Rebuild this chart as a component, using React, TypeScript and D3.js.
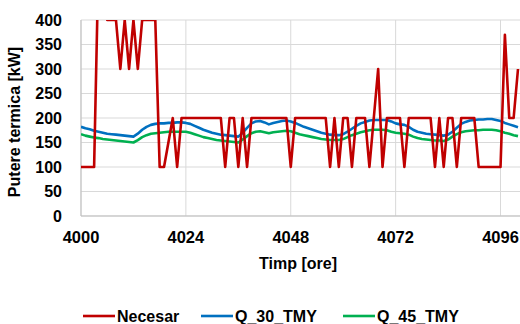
import React from "react";
import * as d3 from "d3";

const startHour = 4000;
const xTicks = [4000, 4024, 4048, 4072, 4096];
const yTicks = [0, 50, 100, 150, 200, 250, 300, 350, 400];

const necesar = [
  100, 100, 100, 100, 520, 480, 400, 400, 400, 300,
  400, 300, 400, 300, 400, 400, 400, 400, 100, 100,
  150, 200, 100, 200, 200, 200, 200, 200, 200, 200,
  200, 200, 200, 100, 200, 200, 100, 200, 100, 200,
  200, 200, 200, 200, 200, 200, 200, 200, 100, 200,
  200, 200, 200, 200, 200, 200, 200, 100, 200, 100,
  200, 200, 100, 200, 200, 200, 100, 200, 300, 100,
  200, 200, 200, 200, 100, 200, 200, 200, 200, 200,
  200, 100, 200, 100, 200, 200, 100, 200, 200, 200,
  200, 100, 100, 100, 100, 100, 100, 370, 200, 200,
  300,
];

const q30 = [
  182, 179, 177, 174, 172, 170, 168, 167, 166, 165,
  164, 163, 162, 168, 176, 182, 186, 188, 189, 189,
  190, 190, 191, 191, 190, 188, 184, 180, 176, 173,
  170, 168, 166, 165, 164, 163, 162, 170, 180, 189,
  193, 194, 191, 187, 190, 192, 194, 195, 193, 190,
  186, 182, 179, 176, 173, 170, 168, 166, 165, 165,
  167, 172, 178, 184, 189, 192, 195, 196, 196, 196,
  196, 193, 189, 187, 186, 182, 176, 172, 170, 168,
  167, 166, 165, 164, 166, 172, 180, 188, 192, 195,
  196, 197, 197, 198, 198, 196, 194, 190, 187, 184,
  181,
];

const q45 = [
  167, 164, 162, 160, 159, 157, 156, 155, 154, 153,
  152, 151, 150, 155, 161, 165, 168, 169, 170, 171,
  172, 172, 172, 172, 172, 170, 167, 164, 161, 159,
  157, 155, 154, 153, 152, 151, 150, 156, 163, 169,
  172, 173, 171, 169, 171, 172, 173, 174, 173, 170,
  167, 165, 163, 161, 159, 157, 156, 155, 155, 155,
  157, 161, 165, 168, 171, 173, 175, 176, 176, 176,
  175, 172, 170, 169, 168, 166, 162, 159, 157, 156,
  155, 154, 154, 153, 156, 162, 167, 171, 173, 174,
  175, 175, 176, 176, 176, 175, 173, 170, 168, 165,
  163,
];

const seriesNames = ["Necesar", "Q_30_TMY", "Q_45_TMY"];
const seriesColors = ["#C00000", "#0070C0", "#00B050"];
const yTitle = "Putere termica [kW]";
const xTitle = "Timp [ore]";

export default function App() {
  const W = 520;
  const H = 324;
  const left = 81;
  const top = 20;
  const bottom = 216;
  const right = 520;
  const x = d3.scaleLinear().domain([4000, 4100]).range([left, 518]);
  const y = d3.scaleLinear().domain([0, 400]).range([bottom, top]);
  const font = "'Liberation Sans', Arial, sans-serif";

  const mk = (arr: number[]) =>
    d3
      .line<number>()
      .x((_, i) => x(startHour + i))
      .y((d) => y(d))(arr) as string;

  const series = [necesar, q30, q45];
  const order = [1, 2, 0];

  const legendItems = [
    { lx: 83, tx: 117 },
    { lx: 201, tx: 235 },
    { lx: 343, tx: 377 },
  ];

  return (
    <svg
      width={W}
      height={H}
      style={{ position: "absolute", left: 0, top: 0, background: "#fff" }}
      fontFamily={font}
    >
      <defs>
        <clipPath id="plotclip">
          <rect x={left} y={top} width={right - left + 2} height={bottom - top} />
        </clipPath>
      </defs>
      {yTicks.map((t) => (
        <line key={"gy" + t} x1={left} x2={right} y1={y(t)} y2={y(t)} stroke="#d9d9d9" strokeWidth={1} />
      ))}
      {xTicks.map((t) => (
        <line key={"gx" + t} x1={x(t)} x2={x(t)} y1={top} y2={bottom} stroke="#d9d9d9" strokeWidth={1} />
      ))}
      <line x1={left} x2={left} y1={top} y2={bottom} stroke="#bfbfbf" strokeWidth={1} />
      <line x1={left} x2={right} y1={bottom} y2={bottom} stroke="#bfbfbf" strokeWidth={1} />
      <g clipPath="url(#plotclip)">
        {order.map((k) => (
          <path
            key={seriesNames[k]}
            d={mk(series[k])}
            fill="none"
            stroke={seriesColors[k]}
            strokeWidth={2.6}
            strokeLinejoin="round"
          />
        ))}
      </g>
      {yTicks.map((t) => (
        <text
          key={"ly" + t}
          x={62}
          y={y(t)}
          dy="0.36em"
          textAnchor="end"
          fontSize={16}
          fontWeight="bold"
          fill="#000"
        >
          {t}
        </text>
      ))}
      {xTicks.map((t) => (
        <text key={"lx" + t} x={x(t)} y={243} textAnchor="middle" fontSize={16.5} fontWeight="bold" fill="#000">
          {t}
        </text>
      ))}
      <text x={298} y={269} textAnchor="middle" fontSize={16} fontWeight="bold" fill="#000">
        {xTitle}
      </text>
      <text
        transform={`translate(20,${(top + bottom) / 2 + 4}) rotate(-90)`}
        textAnchor="middle"
        fontSize={16}
        fontWeight="bold"
        fill="#000"
      >
        {yTitle}
      </text>
      {legendItems.map((it, k) => (
        <g key={"lg" + k}>
          <line x1={it.lx} x2={it.lx + 32} y1={316} y2={316} stroke={seriesColors[k]} strokeWidth={2.6} />
          <text x={it.tx} y={322} fontSize={16} fontWeight="bold" fill="#000">
            {seriesNames[k]}
          </text>
        </g>
      ))}
    </svg>
  );
}
